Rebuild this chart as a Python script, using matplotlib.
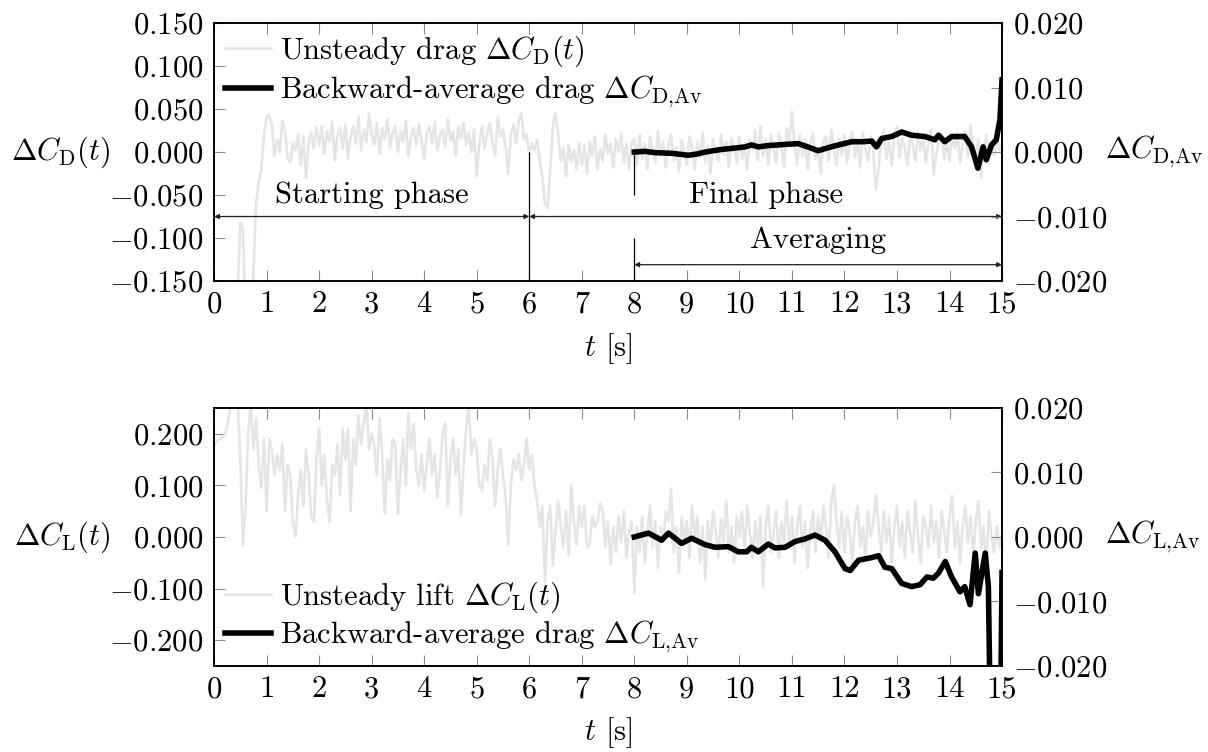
import numpy as np
import matplotlib
matplotlib.use("Agg")
import matplotlib.pyplot as plt
from matplotlib.ticker import FuncFormatter, MultipleLocator

DT = 0.05

cd_unsteady = [
    -0.40, -0.40, -0.40, -0.40, -0.40, -0.38, -0.35, -0.30, -0.24, -0.16, -0.082, -0.090, -0.19, -0.24, -0.19, -0.14, -0.060, -0.035, -0.020, 0.020,
    0.040, 0.043, 0.032, -0.005, 0.015, 0.000, 0.036, 0.025, -0.008, -0.012, 0.010, 0.002, 0.020, -0.015, 0.018, -0.030, 0.010, 0.022, 0.005, 0.028,
    0.008, 0.030, -0.002, 0.024, 0.012, 0.035, -0.010, 0.020, 0.028, 0.004, 0.032, -0.008, 0.018, 0.030, 0.010, 0.040, 0.002, 0.026, 0.012, 0.045,
    0.020, 0.008, 0.034, -0.002, 0.028, 0.015, 0.038, 0.005, 0.022, 0.030, 0.000, 0.025, 0.012, 0.036, -0.005, 0.018, 0.028, 0.008, 0.032, 0.014,
    -0.008, 0.022, 0.030, 0.010, 0.035, 0.002, 0.020, 0.026, 0.006, 0.038, 0.012, 0.024, -0.004, 0.030, 0.016, 0.034, 0.008, 0.022, 0.000, 0.026,
    -0.028, 0.010, 0.030, 0.004, 0.022, 0.034, 0.012, -0.004, 0.040, 0.018, 0.026, 0.006, -0.025, 0.020, 0.032, 0.010, 0.036, 0.045, 0.015, 0.020,
    -0.002, 0.010, 0.002, 0.014, -0.010, -0.030, -0.060, -0.065, -0.020, 0.030, 0.045, 0.020, -0.010, 0.005, -0.028, 0.008, -0.012, 0.002, -0.020, 0.010,
    -0.015, 0.008, -0.025, 0.012, -0.005, 0.018, -0.020, 0.004, -0.010, 0.020, -0.002, 0.010, -0.018, 0.015, 0.000, 0.022, -0.012, 0.010, -0.020, 0.012,
    0.015, -0.015, 0.020, -0.008, 0.010, -0.020, 0.018, 0.002, -0.012, 0.024, -0.005, 0.012, -0.018, 0.008, 0.020, -0.010, 0.005, -0.022, 0.014, 0.000,
    -0.015, 0.018, 0.004, -0.020, 0.012, -0.006, 0.022, -0.012, 0.008, -0.025, 0.015, 0.002, -0.010, 0.020, -0.004, 0.012, -0.018, 0.016, 0.004, -0.012,
    0.018, -0.008, 0.010, -0.020, 0.014, 0.002, 0.025, -0.010, 0.030, -0.005, 0.016, -0.015, 0.020, 0.004, -0.012, 0.022, 0.006, -0.018, 0.028, 0.010,
    0.047, 0.008, -0.015, 0.020, -0.005, 0.014, -0.020, 0.010, 0.022, -0.008, 0.004, -0.025, 0.012, 0.018, -0.010, 0.026, 0.002, -0.015, 0.016, -0.004,
    0.020, -0.012, 0.008, 0.024, -0.006, 0.014, -0.018, 0.022, 0.004, -0.010, 0.018, 0.000, -0.044, -0.020, 0.016, 0.026, -0.008, 0.012, -0.015, 0.020,
    0.030, -0.006, 0.016, 0.004, -0.015, 0.022, 0.008, -0.010, 0.024, 0.002, 0.018, -0.012, 0.010, 0.026, -0.026, -0.004, 0.014, 0.020, -0.008, 0.012,
    -0.010, 0.018, 0.004, 0.022, -0.012, 0.010, 0.024, -0.006, 0.031, 0.008, -0.010, 0.016, -0.030, 0.004, 0.020, -0.014, 0.010, -0.004, 0.018, 0.002,
    0.008,
]

cl_unsteady = [
    0.178, 0.185, 0.190, 0.192, 0.198, 0.215, 0.245, 0.270, 0.270, 0.260, 0.150, -0.016, 0.060, 0.200, 0.260, 0.170, 0.230, 0.140, 0.095, 0.190,
    0.050, 0.190, 0.170, 0.120, 0.160, 0.130, 0.180, 0.050, 0.140, 0.120, 0.030, 0.000, 0.080, 0.130, 0.060, 0.170, 0.120, 0.040, 0.030, 0.150,
    0.210, 0.100, 0.160, 0.070, 0.030, 0.140, 0.120, 0.180, 0.080, 0.210, 0.150, 0.210, 0.050, 0.190, 0.140, 0.236, 0.180, 0.220, 0.256, 0.170,
    0.200, 0.178, 0.120, 0.230, 0.160, 0.045, 0.150, 0.110, 0.190, 0.180, 0.045, 0.130, 0.190, 0.100, 0.240, 0.170, 0.220, 0.130, 0.100, 0.160,
    0.090, 0.140, 0.190, 0.120, 0.160, 0.075, 0.130, 0.200, 0.220, 0.060, 0.150, 0.190, 0.120, 0.170, 0.043, 0.140, 0.210, 0.256, 0.160, 0.190,
    0.170, 0.100, 0.090, 0.140, 0.110, 0.190, 0.150, 0.060, 0.130, 0.170, 0.120, 0.080, -0.015, 0.100, 0.150, 0.130, 0.160, 0.110, 0.140, 0.190,
    0.130, 0.160, 0.100, 0.070, 0.020, 0.060, -0.087, 0.030, 0.060, -0.055, 0.010, 0.070, 0.020, -0.020, 0.050, -0.035, 0.100, 0.030, -0.015, 0.060,
    0.020, 0.060, -0.020, -0.015, 0.040, 0.020, 0.030, 0.065, 0.050, -0.020, 0.030, -0.054, 0.020, -0.030, 0.040, -0.010, 0.050, -0.040, 0.010, 0.030,
    -0.109, 0.020, -0.030, 0.040, -0.050, 0.010, 0.060, -0.020, 0.030, -0.060, 0.020, -0.010, 0.050, 0.030, 0.094, -0.030, 0.020, -0.070, 0.040, -0.010,
    0.030, -0.040, 0.060, 0.000, 0.040, -0.050, 0.020, -0.083, 0.030, -0.020, 0.050, 0.010, -0.040, 0.035, -0.010, 0.070, -0.030, 0.020, -0.050, 0.040,
    0.000, 0.050, -0.030, 0.060, 0.010, -0.040, 0.030, -0.020, 0.040, -0.096, 0.020, 0.060, -0.030, 0.010, 0.050, -0.040, 0.030, -0.010, 0.070, -0.020,
    0.040, -0.050, 0.020, 0.060, -0.020, 0.030, -0.060, 0.010, 0.050, -0.030, 0.040, -0.010, 0.060, 0.020, -0.040, 0.070, 0.100, 0.030, -0.020, 0.050,
    -0.030, 0.040, 0.010, -0.050, 0.030, 0.060, -0.020, 0.020, -0.040, 0.050, 0.000, 0.030, 0.080, 0.020, -0.030, 0.050, -0.010, 0.040, -0.050, 0.020,
    0.060, -0.020, 0.030, -0.040, 0.050, 0.010, -0.030, 0.070, 0.000, -0.050, 0.040, 0.020, -0.020, 0.060, -0.010, 0.030, -0.040, 0.050, 0.010, -0.030,
    0.040, 0.080, -0.020, 0.030, -0.050, 0.020, 0.060, -0.010, 0.040, -0.040, 0.030, 0.070, -0.020, 0.020, -0.060, 0.050, 0.000, -0.030, 0.020, -0.020,
    0.005,
]

# backward averages (right axis)
t_cd_av = [8.00, 8.20, 8.40, 8.71, 9.03, 9.20, 9.35, 9.50, 9.66, 9.90,
           10.11, 10.23, 10.36, 10.55, 10.74, 10.90, 11.12, 11.30, 11.50, 11.70,
           11.89, 12.14, 12.35, 12.52, 12.61, 12.71, 12.90, 13.09, 13.28, 13.53,
           13.72, 13.79, 13.91, 14.04, 14.29, 14.42, 14.54, 14.64, 14.70, 14.80,
           14.89, 14.96, 15.00]
cd_av = [0.0000, 0.0001, -0.0001, -0.0002, -0.0005, -0.0003, 0.0000, 0.0002, 0.0004, 0.0006,
         0.0008, 0.0011, 0.0008, 0.0010, 0.0011, 0.0012, 0.0013, 0.0008, 0.0002, 0.0007,
         0.0011, 0.0016, 0.0016, 0.0017, 0.0008, 0.0021, 0.0024, 0.0031, 0.0026, 0.0024,
         0.0019, 0.0026, 0.0016, 0.0024, 0.0024, 0.0008, -0.0025, 0.0008, -0.0012, 0.0011,
         0.0019, 0.0050, 0.0112]

t_cl_av = [8.00, 8.27, 8.52, 8.65, 8.90, 9.09, 9.35, 9.54, 9.79, 9.98,
           10.14, 10.23, 10.36, 10.55, 10.68, 10.87, 11.06, 11.25, 11.44, 11.63,
           11.82, 12.01, 12.11, 12.27, 12.52, 12.65, 12.77, 12.90, 13.09, 13.28,
           13.44, 13.57, 13.69, 13.79, 13.92, 14.04, 14.20, 14.29, 14.39, 14.49,
           14.55, 14.68, 14.74, 14.78, 14.97, 15.00]
cl_av = [0.0000, 0.0006, -0.0005, 0.0006, -0.0010, -0.0002, -0.0012, -0.0016, -0.0015, -0.0023,
         -0.0023, -0.0016, -0.0023, -0.0011, -0.0017, -0.0016, -0.0007, -0.0003, 0.0003, -0.0005,
         -0.0023, -0.0049, -0.0052, -0.0036, -0.0032, -0.0029, -0.0047, -0.0049, -0.0072, -0.0077,
         -0.0074, -0.0062, -0.0064, -0.0056, -0.0038, -0.0062, -0.0085, -0.0077, -0.0105, -0.0025,
         -0.0088, -0.0025, -0.0077, -0.0300, -0.0300, -0.0055]

# phase markers (time [s])
t_start_end = 6.0
t_avg_start = 8.0
t_end = 15.0

GRAY = "#e5e5e5"
TICK = "#8c8c8c"

plt.rcParams.update({
    "font.family": "serif",
    "font.serif": ["cmr10"],
    "mathtext.fontset": "cm",
    "font.size": 22,
    "axes.linewidth": 1.2,
})

fmt3 = FuncFormatter(lambda v, _: "$%.3f$" % (0.0 if abs(v) < 1e-9 else v))


def style(ax, ax2, lim_l, step_l, lim_r, step_r, lab_l, lab_r):
    ax.set_xlim(0, 15)
    ax.set_ylim(*lim_l)
    ax2.set_ylim(*lim_r)
    ax.xaxis.set_major_locator(MultipleLocator(1))
    ax.yaxis.set_major_locator(MultipleLocator(step_l))
    ax2.yaxis.set_major_locator(MultipleLocator(step_r))
    ax.yaxis.set_major_formatter(fmt3)
    ax2.yaxis.set_major_formatter(fmt3)
    ax.tick_params(axis="x", direction="in", top=True, bottom=True, length=8,
                   width=0.8, color=TICK, pad=7)
    ax.tick_params(axis="y", direction="in", left=True, right=False, length=8,
                   width=0.8, color=TICK, pad=8)
    ax2.tick_params(axis="y", direction="in", right=True, length=8,
                    width=0.8, color=TICK, pad=8)
    ax.set_xlabel(r"$t$ [s]", va="center")
    ax.xaxis.set_label_coords(0.5, -0.26)
    ax.set_ylabel(lab_l, rotation=0, ha="right", va="center")
    ax.yaxis.set_label_coords(-0.132, 0.5)
    ax2.set_ylabel(lab_r, rotation=0, ha="left", va="center")
    ax2.yaxis.set_label_coords(1.131, 0.5)


def phase_arrow(ax, x0, x1, y):
    ax.annotate("", xy=(x0, y), xytext=(x1, y),
                arrowprops=dict(arrowstyle="<|-|>", lw=0.9, color="#222222",
                                mutation_scale=7, shrinkA=0, shrinkB=0))


fig = plt.figure(figsize=(12.08, 7.52), dpi=100)
ax_d = fig.add_axes([0.1772, 0.6263, 0.6523, 0.3431])
ax_l = fig.add_axes([0.1772, 0.1144, 0.6523, 0.3431])

t_raw = np.arange(len(cd_unsteady)) * DT

# ---- drag ----
ax_d2 = ax_d.twinx()
g1, = ax_d.plot(t_raw, cd_unsteady, color=GRAY, lw=1.9)
b1, = ax_d2.plot(t_cd_av, cd_av, color="black", lw=4.0)
style(ax_d, ax_d2, (-0.15, 0.15), 0.05, (-0.02, 0.02), 0.01,
      r"$\Delta C_{\mathrm{D}}(t)$", r"$\Delta C_{\mathrm{D{,}Av}}$")

ax_d.vlines(t_start_end, -0.15, 0.0, color="black", lw=0.9)
ax_d.vlines(t_avg_start, -0.05, 0.0, color="black", lw=0.9)
ax_d.vlines(t_avg_start, -0.15, -0.10, color="black", lw=0.9)
phase_arrow(ax_d, 0.0, t_start_end, -0.075)
phase_arrow(ax_d, t_start_end, t_end, -0.075)
phase_arrow(ax_d, t_avg_start, t_end, -0.131)
ax_d.text(3.0, -0.05, "Starting phase", ha="center", va="center")
ax_d.text(10.5, -0.05, "Final phase", ha="center", va="center")
ax_d.text(11.5, -0.103, "Averaging", ha="center", va="center")

ax_d2.legend([g1, b1], [r"Unsteady drag $\Delta C_{\mathrm{D}}(t)$",
                        r"Backward-average drag $\Delta C_{\mathrm{D{,}Av}}$"],
             loc="upper left", frameon=False, handlelength=1.5, handletextpad=0.3,
             labelspacing=0.15, borderaxespad=0.1, borderpad=0.25)

# ---- lift ----
ax_l2 = ax_l.twinx()
g2, = ax_l.plot(t_raw, cl_unsteady, color=GRAY, lw=1.9)
b2, = ax_l2.plot(t_cl_av, cl_av, color="black", lw=4.0)
style(ax_l, ax_l2, (-0.25, 0.25), 0.1, (-0.02, 0.02), 0.01,
      r"$\Delta C_{\mathrm{L}}(t)$", r"$\Delta C_{\mathrm{L{,}Av}}$")

ax_l2.legend([g2, b2], [r"Unsteady lift $\Delta C_{\mathrm{L}}(t)$",
                        r"Backward-average drag $\Delta C_{\mathrm{L{,}Av}}$"],
             loc="lower left", frameon=False, handlelength=1.5, handletextpad=0.3,
             labelspacing=0.15, borderaxespad=0.1, borderpad=0.25)

fig.savefig("out.png", dpi=100)
